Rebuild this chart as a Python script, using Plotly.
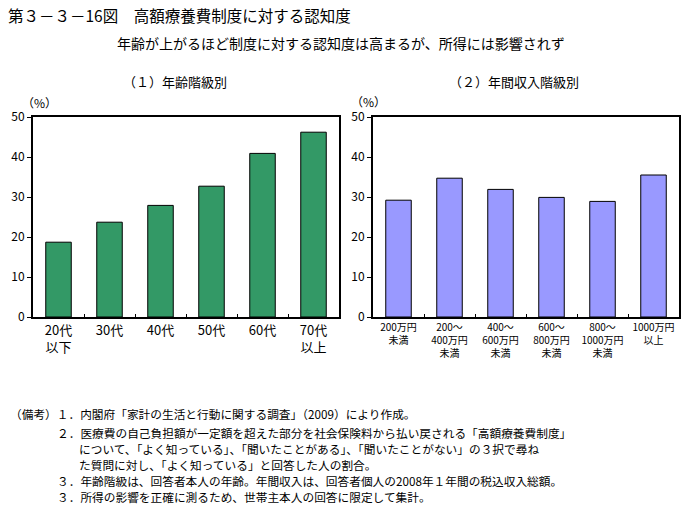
import plotly.graph_objects as go

W, H = 687, 505
FONT = "Noto Sans CJK JP"

# ---- data ----
age_labels = ["20代<br>以下", "30代", "40代", "50代", "60代", "70代<br>以上"]
age_values = [18.7, 23.7, 27.9, 32.7, 40.9, 46.2]

income_labels = ["200万円<br>未満", "200～<br>400万円<br>未満", "400～<br>600万円<br>未満",
                 "600～<br>800万円<br>未満", "800～<br>1000万円<br>未満", "1000万円<br>以上"]
income_values = [29.2, 34.7, 31.9, 29.9, 28.9, 35.5]

y_ticks = [0, 10, 20, 30, 40, 50]

title_text = "第３－３－16図　高額療養費制度に対する認知度"
subtitle_text = "年齢が上がるほど制度に対する認知度は高まるが、所得には影響されず"
panel_titles = ["（１）年齢階級別", "（２）年間収入階級別"]
notes = [
    "（備考）１．内閣府「家計の生活と行動に関する調査」（2009）により作成。",
    "２．医療費の自己負担額が一定額を超えた部分を社会保険料から払い戻される「高額療養費制度」",
    "について、「よく知っている」、「聞いたことがある」、「聞いたことがない」の３択で尋ね",
    "た質問に対し、「よく知っている」と回答した人の割合。",
    "３．年齢階級は、回答者本人の年齢。年間収入は、回答者個人の2008年１年間の税込収入総額。",
    "３．所得の影響を正確に測るため、世帯主本人の回答に限定して集計。",
]

def px_x(v):
    return v / W

def px_y(v):
    return 1 - v / H

fig = go.Figure()
fig.add_trace(go.Bar(x=age_labels, y=age_values, xaxis="x", yaxis="y",
                     marker=dict(color="#339966", line=dict(color="black", width=1)),
                     showlegend=False, hoverinfo="x+y"))
fig.add_trace(go.Bar(x=income_labels, y=income_values, xaxis="x2", yaxis="y2",
                     marker=dict(color="#9999FF", line=dict(color="black", width=1)),
                     showlegend=False, hoverinfo="x+y"))

axis_common_y = dict(range=[0, 50], tickvals=y_ticks, showline=True, mirror=True,
                     linecolor="black", linewidth=2, ticks="outside", ticklen=4,
                     tickcolor="black", showgrid=False, zeroline=False, automargin=False,
                     tickfont=dict(family=FONT, size=12, color="black"), fixedrange=True)
axis_common_x = dict(type="category", showline=True, mirror=True, linecolor="black",
                     linewidth=2, ticks="inside", ticklen=3, tickcolor="black",
                     tickson="boundaries", showgrid=False, zeroline=False, fixedrange=True,
                     tickangle=0, automargin=False)

fig.update_layout(
    width=W, height=H,
    margin=dict(l=0, r=0, t=0, b=0, pad=0, autoexpand=False),
    paper_bgcolor="white", plot_bgcolor="white",
    bargap=0.5,
    font=dict(family=FONT, color="black"),
    xaxis=dict(domain=[px_x(33), px_x(339)], anchor="y",
               tickfont=dict(family=FONT, size=13, color="black"), **axis_common_x),
    yaxis=dict(domain=[px_y(317), px_y(117)], anchor="x", **axis_common_y),
    xaxis2=dict(domain=[px_x(373), px_x(679)], anchor="y2",
                tickfont=dict(family=FONT, size=10, color="black"), **axis_common_x),
    yaxis2=dict(domain=[px_y(317), px_y(117)], anchor="x2", **axis_common_y),
)

ann = []
def add_text(text, x, y, size, xanchor="left"):
    ann.append(dict(text=text, x=px_x(x), y=px_y(y), xref="paper", yref="paper",
                    xanchor=xanchor, yanchor="middle", showarrow=False,
                    font=dict(family=FONT, size=size, color="black")))

add_text(title_text, 6, 15, 15.5)
add_text(subtitle_text, 341, 43, 14, "center")
add_text(panel_titles[0], 175, 81, 13, "center")
add_text(panel_titles[1], 514, 81, 13, "center")
add_text("（%）", 39, 103, 12, "center")
add_text("（%）", 368, 102, 12, "center")

note_x = [8, 55, 77, 77, 55, 55]
note_y = [413, 432, 448, 464, 480, 496]
for t, nx, ny in zip(notes, note_x, note_y):
    add_text(t, nx, ny, 11.7)

fig.update_layout(annotations=ann)
fig.write_html("out.html",
               config={"displayModeBar": False},
               post_script="document.body.style.margin='0';document.body.style.overflow='hidden';")
